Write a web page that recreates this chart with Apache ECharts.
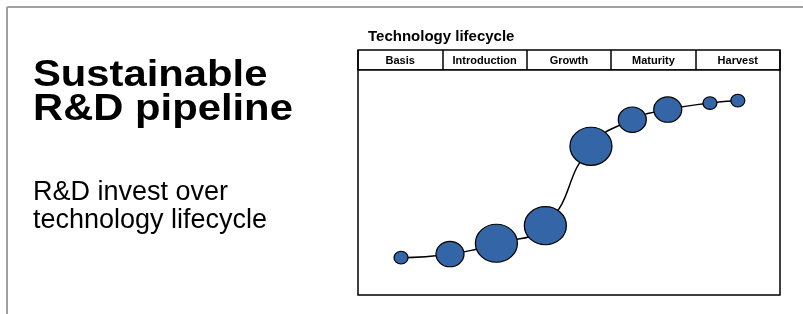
<!DOCTYPE html>
<html>
<head>
<meta charset="utf-8">
<script src="https://cdn.jsdelivr.net/npm/echarts@6/dist/echarts.min.js"></script>
<style>
  html, body { margin: 0; padding: 0; background: #fff; }
  #main { width: 803px; height: 314px; }
</style>
</head>
<body>
<div id="main"></div>
<script>
// lifecycle phases (header cells)
const phases = ['Basis', 'Introduction', 'Growth', 'Maturity', 'Harvest'];
// position of each technology along the lifecycle (in phase units, 0..5)
const lifecyclePos = [0.51, 1.09, 1.64, 2.22, 2.76, 3.25, 3.67, 4.17, 4.50];
// technology maturity (0..100)
const maturity = [16.6, 18.2, 23.0, 30.8, 66.1, 77.9, 82.4, 85.3, 86.4];
// R&D invest (relative bubble size)
const invest = [1, 2, 3, 3, 3, 2, 2, 1, 1];

const points = lifecyclePos.map((x, i) => [x, maturity[i], invest[i]]);

const myChart = echarts.init(document.getElementById('main'));

const option = {
  backgroundColor: '#fff',
  animation: false,
  grid: [
    { left: 358, top: 50, width: 422, height: 20, show: true, borderColor: '#000', borderWidth: 1.5, backgroundColor: '#fff' },
    { left: 358, top: 70, width: 422, height: 225, show: true, borderColor: '#000', borderWidth: 1.5, backgroundColor: '#fff' }
  ],
  xAxis: [
    {
      gridIndex: 0,
      type: 'category',
      data: phases,
      position: 'bottom',
      axisLine: { show: false },
      axisTick: { show: false },
      splitLine: { show: true, interval: 0, lineStyle: { color: '#000', width: 1.5 } },
      axisLabel: {
        inside: true,
        margin: 9,
        interval: 0,
        verticalAlign: 'middle',
        color: '#000',
        fontFamily: 'Liberation Sans, Arial, sans-serif',
        fontWeight: 'bold',
        fontSize: 11
      }
    },
    { gridIndex: 1, type: 'value', min: 0, max: 5, show: false }
  ],
  yAxis: [
    { gridIndex: 0, type: 'value', show: false },
    { gridIndex: 1, type: 'value', min: 0, max: 100, show: false }
  ],
  graphic: [
    { type: 'line', shape: { x1: 7, y1: 7, x2: 803, y2: 7 }, style: { stroke: '#a0a0a0', lineWidth: 2 } },
    { type: 'line', shape: { x1: 7, y1: 7, x2: 7, y2: 314 }, style: { stroke: '#a0a0a0', lineWidth: 2 } },
    {
      type: 'text', left: 33, top: 58, scaleX: 1.16,
      style: { text: 'Sustainable\nR&D pipeline', fill: '#000', font: 'bold 36px "Liberation Sans", Arial, sans-serif', lineHeight: 34 }
    },
    {
      type: 'text', left: 33, top: 179,
      style: { text: 'R&D invest over\ntechnology lifecycle', fill: '#000', font: '27px "Liberation Sans", Arial, sans-serif', lineHeight: 28 }
    },
    {
      type: 'text', left: 368, top: 29,
      style: { text: 'Technology lifecycle', fill: '#000', font: 'bold 15px "Liberation Sans", Arial, sans-serif' }
    }
  ],
  series: [
    {
      type: 'line',
      xAxisIndex: 1,
      yAxisIndex: 1,
      data: points,
      smooth: 0.5,
      symbol: 'circle',
      symbolSize: (v) => [v[2] * 14, v[2] * 12.7],
      lineStyle: { color: '#000', width: 1.5 },
      itemStyle: { color: '#3465a6', borderColor: '#000', borderWidth: 1.2 },
      z: 3
    }
  ]
};

option && myChart.setOption(option);
window.addEventListener('resize', () => {
  if (myChart) {
    myChart.resize();
  }
});
</script>
</body>
</html>
